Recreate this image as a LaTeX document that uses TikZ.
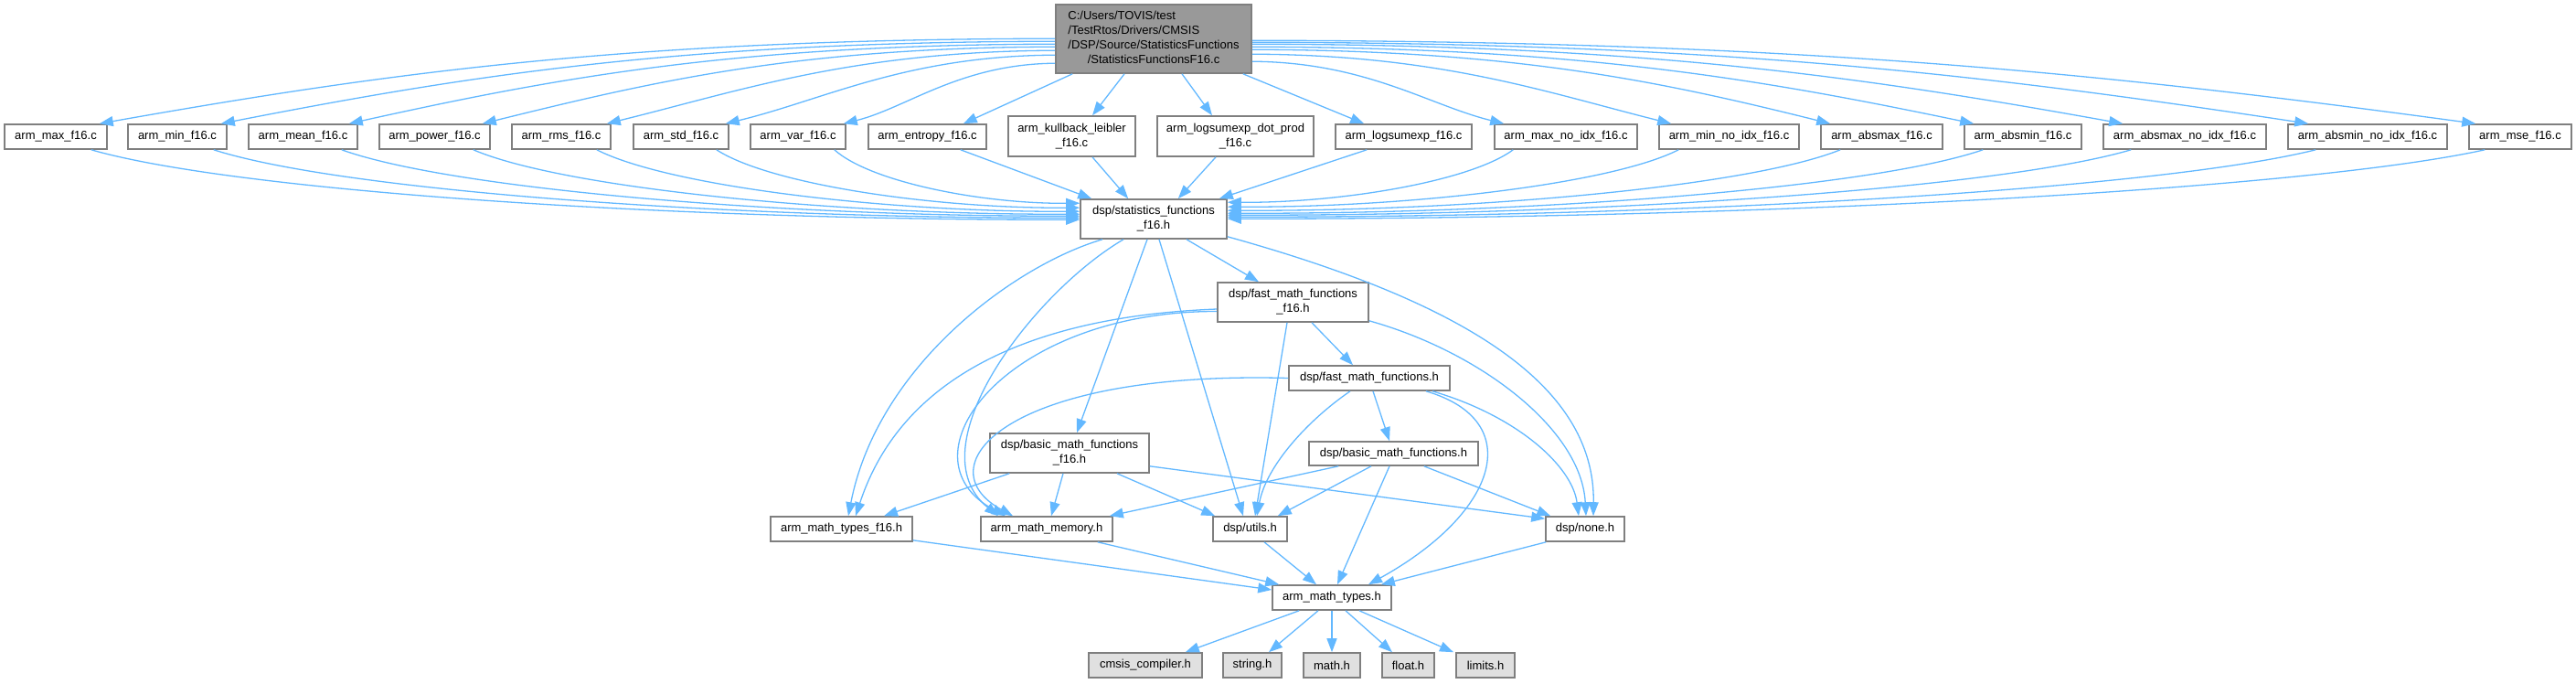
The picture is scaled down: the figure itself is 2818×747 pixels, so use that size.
\documentclass[tikz,border=0pt]{standalone}
\usepackage{fontspec}
\setmainfont{Liberation Sans}
\usepackage{xcolor}
\usepackage{tikz}
\usetikzlibrary{arrows.meta}

\definecolor{lineblue}{HTML}{63B8FF}
\definecolor{boxgray}{HTML}{7F7F7F}
\definecolor{rootgray}{HTML}{999999}
\definecolor{sysgray}{HTML}{E0E0E0}

\begin{document}
\begin{tikzpicture}[
  x=1pt, y=-1pt,
  >={Triangle[length=15pt,width=11pt]},
  B/.style={draw=boxgray, line width=1.6pt, fill=#1, minimum height=27,
            inner sep=0pt, align=center, font=\fontsize{13}{16}\selectfont},
  L/.style={->, draw=lineblue, line width=1.3pt},
]
\useasboundingbox (0,0) rectangle (2818,747);

%--- ROOT FILE ---
\node[B=rootgray, minimum width=214, minimum height=75] (root) at (1262,42.5)
  {\begin{tabular}{@{}l@{}}
   C:/Users/TOVIS/test\\
   /TestRtos/Drivers/CMSIS\\
   /DSP/Source/StatisticsFunctions\\
   \multicolumn{1}{@{}c@{}}{/StatisticsFunctionsF16.c}
   \end{tabular}};

%--- SOURCE FILES ---
\node[B=white, minimum width=112] (maxf)    at (61,149.5)   {arm\_max\_f16.c};
\node[B=white, minimum width=108] (minf)    at (194,149.5)  {arm\_min\_f16.c};
\node[B=white, minimum width=119] (meanf)   at (331.5,149.5) {arm\_mean\_f16.c};
\node[B=white, minimum width=121] (powerf)  at (475.5,149.5) {arm\_power\_f16.c};
\node[B=white, minimum width=108] (rmsf)    at (614,149.5)  {arm\_rms\_f16.c};
\node[B=white, minimum width=104] (stdf)    at (745,149.5)  {arm\_std\_f16.c};
\node[B=white, minimum width=104] (varf)    at (873,149.5)  {arm\_var\_f16.c};
\node[B=white, minimum width=129] (entf)    at (1014.5,149.5) {arm\_entropy\_f16.c};
\node[B=white, minimum width=139, minimum height=44] (klf) at (1172.5,149)
  {arm\_kullback\_leibler\\\_f16.c};
\node[B=white, minimum width=171, minimum height=44] (lsedf) at (1351.5,149)
  {arm\_logsumexp\_dot\_prod\\\_f16.c};
\node[B=white, minimum width=149] (lsef)    at (1535.5,149.5) {arm\_logsumexp\_f16.c};
\node[B=white, minimum width=156] (maxnif)  at (1713,149.5) {arm\_max\_no\_idx\_f16.c};
\node[B=white, minimum width=153] (minnif)  at (1891.5,149.5) {arm\_min\_no\_idx\_f16.c};
\node[B=white, minimum width=133] (amaxf)   at (2058.5,149.5) {arm\_absmax\_f16.c};
\node[B=white, minimum width=128] (aminf)   at (2213,149.5) {arm\_absmin\_f16.c};
\node[B=white, minimum width=178] (amaxnif) at (2390,149.5) {arm\_absmax\_no\_idx\_f16.c};
\node[B=white, minimum width=174] (aminnif) at (2590,149.5) {arm\_absmin\_no\_idx\_f16.c};
\node[B=white, minimum width=112] (msef)    at (2757,149.5) {arm\_mse\_f16.c};

%--- HEADERS ---
\node[B=white, minimum width=160, minimum height=43] (stat) at (1262,239.5)
  {dsp/statistics\_functions\\\_f16.h};
\node[B=white, minimum width=165, minimum height=43] (fastf) at (1414.5,330.5)
  {dsp/fast\_math\_functions\\\_f16.h};
\node[B=white, minimum width=176] (fast) at (1498,413.5) {dsp/fast\_math\_functions.h};
\node[B=white, minimum width=174, minimum height=43] (basicf) at (1170,495.5)
  {dsp/basic\_math\_functions\\\_f16.h};
\node[B=white, minimum width=185, minimum height=26] (basic) at (1524.5,496)
  {dsp/basic\_math\_functions.h};
\node[B=white, minimum width=155] (typesf) at (920.5,578.5) {arm\_math\_types\_f16.h};
\node[B=white, minimum width=144] (memory) at (1145,578.5)  {arm\_math\_memory.h};
\node[B=white, minimum width=81]  (utils)  at (1367.5,578.5) {dsp/utils.h};
\node[B=white, minimum width=86]  (none)   at (1734,578.5)  {dsp/none.h};
\node[B=white, minimum width=130] (types)  at (1457,653.5)  {arm\_math\_types.h};

%--- SYSTEM HEADERS ---
\node[B=sysgray, minimum width=124] (cmsis)  at (1253,727.5)  {cmsis\_compiler.h};
\node[B=sysgray, minimum width=64]  (string) at (1370,727.5)  {string.h};
\node[B=sysgray, minimum width=62]  (math)   at (1457,727.5)  {math.h};
\node[B=sysgray, minimum width=57]  (float)  at (1540.5,727.5) {float.h};
\node[B=sysgray, minimum width=64]  (limits) at (1625,727.5)  {limits.h};

%--- ROOT TO SOURCES ---
\draw[L] ([yshift=-38]root.north west) .. controls (684,43) and (422,80)   .. ([xshift=-9]maxf.north east);
\draw[L] ([yshift=-41]root.north west) .. controls (744,46) and (515,82)   .. ([xshift=-7]minf.north east);
\draw[L] ([yshift=-44]root.north west) .. controls (807,49) and (613,84)   .. ([xshift=-10]meanf.north east);
\draw[L] ([yshift=-47]root.north west) .. controls (872,52) and (715,89)   .. ([xshift=-9]powerf.north east);
\draw[L] ([yshift=-51]root.north west) .. controls (934,56) and (811,99)   .. ([xshift=-5]rmsf.north east);
\draw[L] ([yshift=-56]root.north west) .. controls (992,61) and (902,109)  .. ([xshift=-4]stdf.north east);
\draw[L] ([yshift=-65]root.north west) .. controls (1050,70) and (992,118) .. ([xshift=-3]varf.north east);
\draw[L] ([xshift=19]root.south west) -- ([xshift=-26]entf.north east);
\draw[L] ([xshift=-32]root.south) -- ([xshift=22.5]klf.north);
\draw[L] ([xshift=31]root.south) -- ([xshift=-25.5]lsedf.north);
\draw[L] ([xshift=-10]root.south east) -- ([xshift=32]lsef.north west);
\draw[L] ([yshift=-63]root.north east) .. controls (1494,68) and (1563,115) .. ([xshift=11]maxnif.north west);
\draw[L] ([yshift=-55]root.north east) .. controls (1576,60) and (1691,101) .. ([xshift=14]minnif.north west);
\draw[L] ([yshift=-50]root.north east) .. controls (1654,55) and (1813,88)  .. ([xshift=11]amaxf.north west);
\draw[L] ([yshift=-47]root.north east) .. controls (1725,52) and (1923,86)  .. ([xshift=11]aminf.north west);
\draw[L] ([yshift=-44]root.north east) .. controls (1798,49) and (2037,84)  .. ([xshift=22]amaxnif.north west);
\draw[L] ([yshift=-42]root.north east) .. controls (1890,47) and (2179,83)  .. ([xshift=23]aminnif.north west);
\draw[L] ([yshift=-40]root.north east) .. controls (1972,45) and (2307,81)  .. ([xshift=8]msef.north west);

%--- SOURCES TO STATISTICS HEADER ---
\draw[L] ([xshift=-18]maxf.south east)   .. controls (261,210) and (749,241)  .. ([yshift=-23]stat.north west);
\draw[L] ([xshift=-15]minf.south east)   .. controls (375,209) and (802,239)  .. ([yshift=-21]stat.north west);
\draw[L] ([xshift=-18]meanf.south east)  .. controls (494,207) and (858,237)  .. ([yshift=-19]stat.north west);
\draw[L] ([xshift=-19]powerf.south east) .. controls (617,206) and (916,235)  .. ([yshift=-17]stat.north west);
\draw[L] ([xshift=-16]rmsf.south east)   .. controls (732,204) and (970,232)  .. ([yshift=-14]stat.north west);
\draw[L] ([xshift=-14]stdf.south east)   .. controls (843,202) and (1022,228) .. ([yshift=-10]stat.north west);
\draw[L] ([xshift=-13]varf.south east)   .. controls (952,199) and (1074,223) .. ([yshift=-5]stat.north west);
\draw[L] ([xshift=-29]entf.south east) -- ([xshift=13]stat.north west);
\draw[L] ([xshift=22.5]klf.south) -- ([xshift=53]stat.north west);
\draw[L] ([xshift=-21.5]lsedf.south) -- ([xshift=-54]stat.north east);
\draw[L] ([xshift=35]lsef.south west) -- ([xshift=-9]stat.north east);
\draw[L] ([xshift=21]maxnif.south west)  .. controls (1609,198) and (1468,222) .. ([yshift=-4]stat.north east);
\draw[L] ([xshift=22]minnif.south west)  .. controls (1763,201) and (1540,227) .. ([yshift=-9]stat.north east);
\draw[L] ([xshift=22]amaxf.south west)   .. controls (1913,204) and (1611,231) .. ([yshift=-13]stat.north east);
\draw[L] ([xshift=21]aminf.south west)   .. controls (2046,206) and (1673,234) .. ([yshift=-16]stat.north east);
\draw[L] ([xshift=31]amaxnif.south west) .. controls (2184,207) and (1738,236) .. ([yshift=-18]stat.north east);
\draw[L] ([xshift=31]aminnif.south west) .. controls (2355,208) and (1819,238) .. ([yshift=-20]stat.north east);
\draw[L] ([xshift=18]msef.south west)    .. controls (2512,209) and (1893,240) .. ([yshift=-22]stat.north east);

%--- STATISTICS HEADER ---
\draw[L] ([xshift=36]stat.south) -- ([xshift=-37.5]fastf.north);
\draw[L] ([xshift=-7]stat.south) -- ([xshift=8]basicf.north);
\draw[L] ([xshift=6]stat.south) -- ([xshift=-7.5]utils.north);
\draw[L] ([xshift=-33]stat.south) .. controls (1130,320) and (1000,490)
  .. ([xshift=-53]memory.north);
\draw[L] ([xshift=-56]stat.south) .. controls (1110,290) and (960,400)
  .. ([xshift=7.5]typesf.north);
\draw[L] ([yshift=3]stat.south east) .. controls (1600,330) and (1745,420)
  .. ([xshift=9]none.north);

%--- FAST MATH F16 ---
\draw[L] ([yshift=-7.5]fastf.west) .. controls (1150,345) and (990,400)
  .. ([xshift=15.5]typesf.north);
\draw[L] ([yshift=-10]fastf.west) .. controls (1100,340) and (980,500)
  .. ([xshift=-45]memory.north);
\draw[L] ([xshift=-6.5]fastf.south) -- ([xshift=5.5]utils.north);
\draw[L] ([xshift=20.5]fastf.south) -- ([xshift=-18]fast.north);
\draw[L] ([yshift=2]fastf.south east) .. controls (1620,385) and (1730,470)
  .. ([xshift=1]none.north);

%--- FAST MATH ---
\draw[L] (fast.west) .. controls (1100,405) and (1010,510)
  .. ([xshift=-37]memory.north);
\draw[L] ([xshift=-21]fast.south) .. controls (1430,460) and (1385,510)
  .. ([xshift=7.5]utils.north);
\draw[L] ([xshift=4]fast.south) -- ([xshift=-4.5]basic.north);
\draw[L] ([xshift=62]fast.south) .. controls (1670,460) and (1640,560)
  .. ([xshift=40]types.north);
\draw[L] ([xshift=69]fast.south) .. controls (1660,455) and (1720,510)
  .. ([xshift=-7]none.north);

%--- BASIC MATH F16 ---
\draw[L] ([xshift=22]basicf.south west) -- ([xshift=46.5]typesf.north);
\draw[L] ([xshift=-7]basicf.south) -- ([xshift=5]memory.north);
\draw[L] ([xshift=52]basicf.south) -- ([xshift=3]utils.north west);
\draw[L] ([yshift=8]basicf.south east) -- ([yshift=-3]none.north west);

%--- BASIC MATH ---
\draw[L] ([xshift=33]basic.south west) -- ([xshift=-4]memory.north east);
\draw[L] ([xshift=-24.5]basic.south) -- ([xshift=-11]utils.north east);
\draw[L] ([xshift=-4.5]basic.south) -- ([xshift=6]types.north);
\draw[L] ([xshift=-60]basic.south east) -- ([xshift=6]none.north west);

%--- INTO ARM MATH TYPES ---
\draw[L] ([yshift=2]typesf.south east) -- ([yshift=8.5]types.west);
\draw[L] ([xshift=-17]memory.south east) -- ([xshift=8]types.north west);
\draw[L] ([xshift=15.5]utils.south) -- ([xshift=-17]types.north);
\draw[L] ([xshift=1]none.south west) -- ([xshift=-12]types.north east);

%--- SYSTEM INCLUDES ---
\draw[L] ([xshift=30]types.south west) -- ([xshift=-19]cmsis.north east);
\draw[L] ([xshift=-15]types.south) -- ([xshift=18]string.north);
\draw[L] (types.south) -- (math.north);
\draw[L] ([xshift=15]types.south) -- ([xshift=-17.5]float.north);
\draw[L] ([xshift=30]types.south) -- ([xshift=-35]limits.north);
\end{tikzpicture}
\end{document}
